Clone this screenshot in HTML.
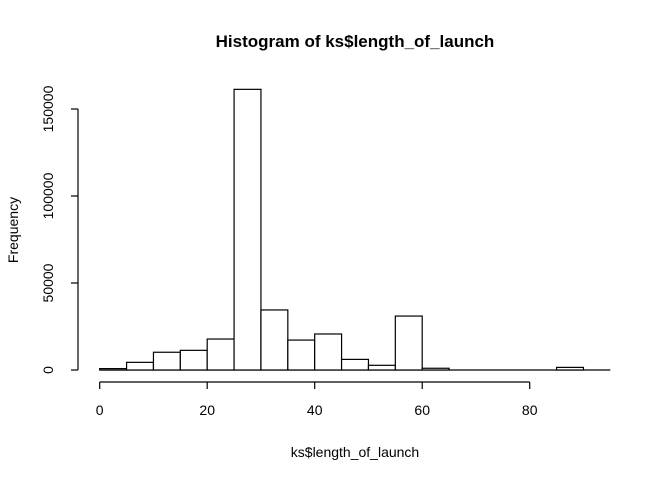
<!DOCTYPE html>
<html><head><meta charset="utf-8"><style>body{margin:0;background:#fff}svg{display:block}text{font-family:"Liberation Sans",Arial,sans-serif;fill:#000}</style></head>
<body>
<svg id="chart" width="672" height="480" xmlns="http://www.w3.org/2000/svg">
<text x="355" y="47" text-anchor="middle" font-size="17" font-weight="bold">Histogram of ks$length_of_launch</text>
<text x="355" y="457" text-anchor="middle" font-size="14">ks$length_of_launch</text>
<text transform="translate(18,230) rotate(-90)" text-anchor="middle" font-size="14">Frequency</text>
<g id="bars"></g><g id="xaxis"></g><g id="yaxis"></g>
</svg>
<script>
const binStarts=[0,5,10,15,20,25,30,35,40,45,50,55,60,65,70,75,80,85,90];
const counts=[800,4400,10200,11300,17800,161300,34500,17200,20700,6100,2700,31000,1000,0,0,0,0,1500,0];
const binWidth=5;
const xTicks=[0,20,40,60,80];
const yTicks=[0,50000,100000,150000];
const yTickLabels=["0","50000","100000","150000"];
const NS="http://www.w3.org/2000/svg";
function sx(v){return 99.7+v*5.375;}
function sy(v){return 370-v*87/50000;}
function mk(t,a,p){const e=document.createElementNS(NS,t);for(const k in a)e.setAttribute(k,a[k]);p.appendChild(e);return e;}
const bars=document.getElementById('bars');
const base=mk('line',{x1:sx(binStarts[0]),x2:sx(binStarts[binStarts.length-1]+binWidth),y1:sy(0),y2:sy(0),stroke:'#000','stroke-width':1.2},bars);


binStarts.forEach((b,i)=>{
  const x0=sx(b),x1=sx(b+binWidth),y=sy(counts[i]);
  const r=mk('rect',{x:x0,y:y,width:x1-x0,height:370-y,fill:'#fff',stroke:'#000','stroke-width':1.2},bars);
  
  
});
const xa=document.getElementById('xaxis');
const xl=mk('line',{x1:sx(xTicks[0]),x2:sx(xTicks[xTicks.length-1]),y1:382,y2:382,stroke:'#000','stroke-width':1.2},xa);


xTicks.forEach(t=>{
  mk('line',{x1:sx(t),x2:sx(t),y1:382,y2:389,stroke:'#000','stroke-width':1.2},xa);
  const tx=mk('text',{x:sx(t),y:415,'text-anchor':'middle','font-size':14},xa);
  tx.textContent=t;
  
  
});
const ya=document.getElementById('yaxis');
const yl=mk('line',{x1:78,x2:78,y1:sy(yTicks[0]),y2:sy(yTicks[yTicks.length-1]),stroke:'#000','stroke-width':1.2},ya);


yTicks.forEach((t,i)=>{
  mk('line',{x1:71,x2:78,y1:sy(t),y2:sy(t),stroke:'#000','stroke-width':1.2},ya);
  const tx=mk('text',{transform:'translate(53,'+sy(t)+') rotate(-90)','text-anchor':'middle','font-size':14},ya);
  tx.textContent=yTickLabels[i];
  
  
});
</script>
</body></html>
